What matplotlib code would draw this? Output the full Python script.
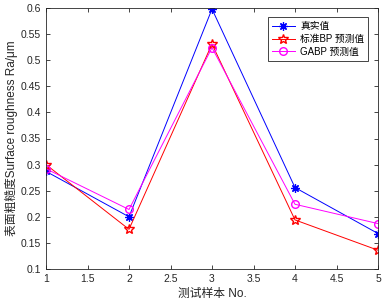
import matplotlib
matplotlib.use("Agg")
import matplotlib.pyplot as plt

plt.rcParams['font.family'] = ['Liberation Sans', 'Noto Sans CJK SC', 'DejaVu Sans']

x = [1, 2, 3, 4, 5]
true_vals = [0.287, 0.200, 0.598, 0.256, 0.168]
bp_vals = [0.300, 0.176, 0.531, 0.194, 0.136]
gabp_vals = [0.292, 0.214, 0.524, 0.224, 0.187]
labels = ['真实值', '标准BP 预测值', 'GABP 预测值']

fig = plt.figure(figsize=(3.87, 3.06), dpi=100)
ax = fig.add_axes([46/387, 1-269/306, (378-46)/387, (269-8)/306])

ax.plot(x, true_vals, color='#0000ff', marker=(8, 2, 0), markersize=6, markeredgewidth=0.9, lw=0.7, label=labels[0])
ax.plot(x, bp_vals, color='#ff0000', marker='*', markersize=7, markerfacecolor='none', lw=0.7, label=labels[1])
ax.plot(x, gabp_vals, color='#ff00ff', marker='o', markersize=5.5, markerfacecolor='none', lw=0.7, label=labels[2])

ax.set_xlim(1, 5)
ax.set_ylim(0.1, 0.6)
ax.set_xticks([1, 1.5, 2, 2.5, 3, 3.5, 4, 4.5, 5])
ax.set_xticklabels(['1', '1.5', '2', '2.5', '3', '3.5', '4', '4.5', '5'])
ax.set_yticks([0.1, 0.15, 0.2, 0.25, 0.3, 0.35, 0.4, 0.45, 0.5, 0.55, 0.6])
ax.set_yticklabels(['0.1', '0.15', '0.2', '0.25', '0.3', '0.35', '0.4', '0.45', '0.5', '0.55', '0.6'])
ax.tick_params(direction='in', length=3, width=0.6, labelsize=7.5, colors='#262626', top=True, right=True,
               labeltop=False, labelright=False)
for s in ax.spines.values():
    s.set_linewidth(0.6)
    s.set_color('#262626')

ax.set_xlabel('测试样本 No.', fontsize=8.5, color='#262626', labelpad=3)
ax.set_ylabel('表面粗糙度Surface roughness Ra/μm', fontsize=8.5, color='#262626', labelpad=2)

leg = ax.legend(loc='upper right', bbox_to_anchor=(0.97, 0.965), fontsize=7, handlelength=2.4,
                fancybox=False, edgecolor='#262626', framealpha=1, borderpad=0.4, labelspacing=0.3,
                handletextpad=0.5, borderaxespad=0)
leg.get_frame().set_linewidth(0.6)

fig.savefig('out.png', dpi=100)
